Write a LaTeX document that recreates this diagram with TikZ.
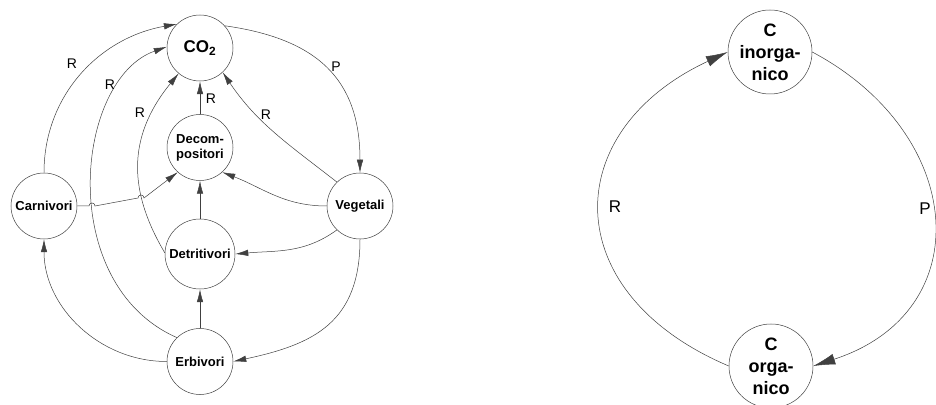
\documentclass[tikz,border=0pt]{standalone}
\usepackage{fontspec}
\setmainfont{Liberation Sans}
\usetikzlibrary{arrows.meta,positioning}
\tikzset{
    organism/.style={
        circle,
        draw=black!75,
        line width=0.5pt,
        minimum size=66pt,
        inner sep=0pt,
        align=center,
        font=\fontsize{13}{15}\selectfont\bfseries,
    },
    carbon/.style={
        circle,
        draw=black!75,
        line width=0.5pt,
        minimum size=84pt,
        inner sep=0pt,
        align=center,
        font=\fontsize{18}{22}\selectfont\bfseries,
    },
    flow/.style={
        draw=black!75,
        line width=0.5pt,
        ->,
    },
    bigflow/.style={
        draw=black!75,
        line width=0.5pt,
        -{Latex[length=22pt,width=11pt]},
    },
    lbl/.style={font=\fontsize{14}{16}\selectfont},
    biglbl/.style={font=\fontsize{17}{20}\selectfont}
}

\begin{document}
\begin{tikzpicture}[x=1pt,y=1pt,>={Latex[length=13pt,width=6.5pt]}]
    \useasboundingbox (0,0) rectangle (936,404);
    % food web
    \node [organism,font=\fontsize{17}{20}\selectfont\bfseries] (co2) at (200,356) {CO\textsubscript{2}};
    \node [organism] (decomp) [below=33pt of co2] {Decom-\\positori};
    \node [organism,minimum size=70pt] (detr) [below=38pt of decomp] {Detritivori};
    \node [organism] (erb) [below=39pt of detr] {Erbivori};
    \node [organism] (carn) at (44,198) {Carnivori};
    \node [organism] (veg) at (360,198) {Vegetali};

    \draw [flow] (carn.north) to[out=90,in=190] (co2.134);
    \draw [flow] (erb.134) .. controls (55,120) and (75,325) .. (co2.178);
    \draw [flow] (detr.178) .. controls (130,210) and (125,265) .. (co2.230);
    \draw [flow] (decomp.north) -- (co2.south);
    \draw [flow] (veg.134) to[out=142,in=304] (co2.313);
    \draw [flow] (co2.42) to[out=-8,in=90,looseness=1.2] (veg.north);
    \draw [flow] (carn.east) -- (89,198) arc[start angle=180,end angle=0,radius=3pt]
        -- (138,206) arc[start angle=180,end angle=0,radius=3pt] -- (decomp.228);
    \draw [flow] (veg.west) to[out=180,in=339] (decomp.312);
    \draw [flow] (veg.226) to[out=216,in=5] (detr.east);
    \draw [flow] (detr.north) -- (decomp.south);
    \draw [flow] (erb.north) -- (detr.south);
    \draw [flow] (veg.south) to[out=270,in=12,looseness=1.2] (erb.east);
    \draw [flow] (erb.west) to[out=180,in=270] (carn.south);

    \node [lbl] (r1) at (72,340) {R};
    \node [lbl] (r2) at (110,319) {R};
    \node [lbl] (r3) at (140,291) {R};
    \node [lbl] (r4) at (211,305) {R};
    \node [lbl] (r5) at (266,289) {R};
    \node [lbl] (p1) at (336,337) {P};

    % carbon cycle
    \node [carbon] (cinorg) at (770,352) {C\\inorga-\\nico};
    \node [carbon] (corg) at (771,38) {C\\orga-\\nico};
    \draw [bigflow] (corg.west) .. controls +(157:187) and +(205:187) .. (cinorg.west);
    \draw [bigflow] (cinorg.east) .. controls +(-28:175) and +(18:175) .. (corg.east);
    \node [biglbl] (r6) at (615,197) {R};
    \node [biglbl] (p2) at (925,195) {P};
\end{tikzpicture}
\end{document}
